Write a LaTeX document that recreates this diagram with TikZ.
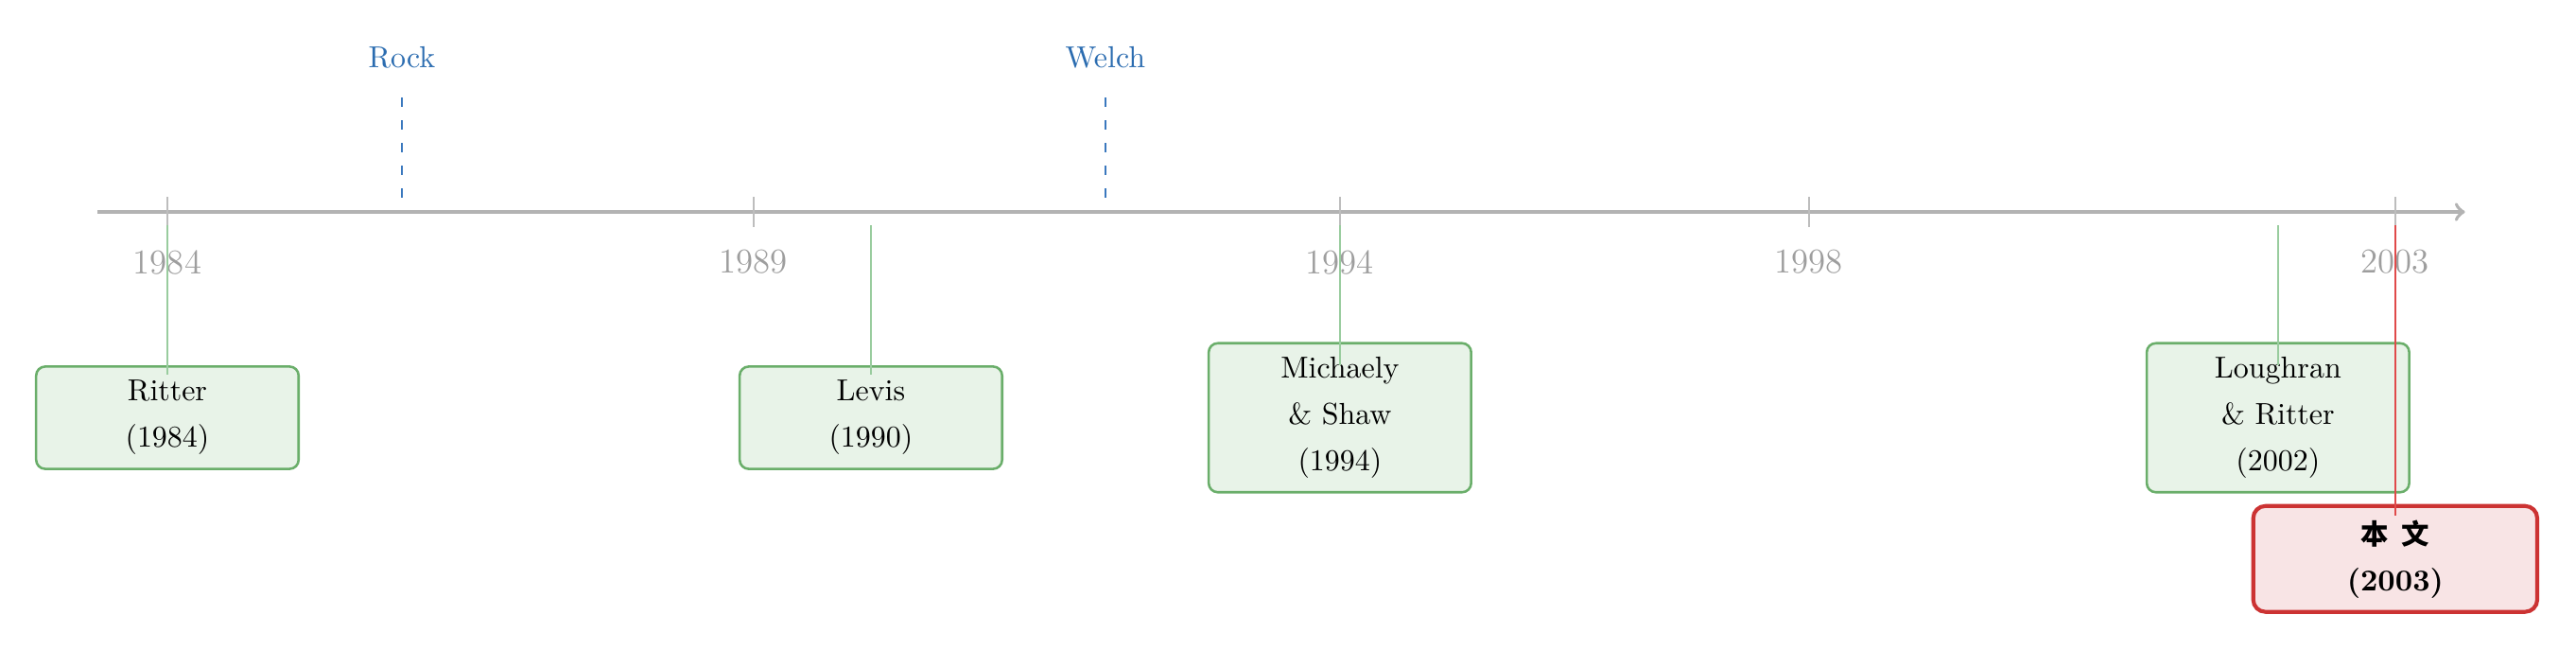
\documentclass[tikz,border=0pt]{standalone}
\usepackage{fontspec}
\newfontfamily\cjk{Noto Sans CJK SC}[Scale=0.92]
\usepackage{xcolor}
\definecolor{axisGray}{HTML}{B3B3B3}
\definecolor{tickGray}{HTML}{BDBDBD}
\definecolor{yearGray}{HTML}{9E9E9E}
\definecolor{inflBlue}{HTML}{2B6CB0}
\definecolor{inflDash}{HTML}{3A78BE}
\definecolor{paperEdge}{HTML}{6AAE6A}
\definecolor{paperFill}{HTML}{E8F3E8}
\definecolor{linkGreen}{HTML}{99CC9E}
\definecolor{oursEdge}{HTML}{CC3333}
\definecolor{oursFill}{HTML}{F8E4E5}
\definecolor{oursLine}{HTML}{E04A4A}
\usepackage{tikz}
\usetikzlibrary{calc}

\def\yrstep{1.3626}

\tikzset{
  timeaxis/.style={axisGray, line width=1.2pt},
  yeartick/.style={tickGray, line width=0.5pt},
  yearlabel/.style={text=yearGray, font=\fontsize{11.5}{14}\selectfont},
  influence/.style={text=inflBlue},
  inflline/.style={inflDash, line width=0.8pt, dash pattern=on 3.2pt off 4.3pt},
  paper/.style={draw=paperEdge, fill=paperFill, line width=0.8pt, rounded corners=3pt,
    align=center, minimum width=3.05cm, inner sep=4.6pt, font=\linespread{1.275}\selectfont},
  ours/.style={paper, draw=oursEdge, fill=oursFill, line width=1.3pt, rounded corners=4pt,
    minimum width=3.3cm, font=\bfseries\linespread{1.275}\selectfont},
  paperlink/.style={linkGreen, line width=0.5pt},
  ourslink/.style={oursLine, line width=0.6pt}
}

\begin{document}
\begin{tikzpicture}
  \useasboundingbox (-1.945,-5.077) rectangle (27.99,2.462);
  % the time axis
  \coordinate (axisStart) at (-0.813,0);
  \coordinate (axisEnd) at (26.70,0);
  \draw[timeaxis, ->] (axisStart) -- (axisEnd);
  \foreach \yy in {1984,1989,1994,1998,2003} {
    \coordinate (t\yy) at ({(\yy-1984)*\yrstep},0);
    \draw[yeartick] ($(t\yy)+(0,0.176)$) -- ($(t\yy)+(0,-0.176)$);
    \node[yearlabel] (y\yy) at ($(t\yy)+(0,-0.582)$) {\yy};
  }
  % influences above the axis
  \node[influence] (rock) at ({2*\yrstep},1.79) {Rock};
  \node[influence] (welch) at ({8*\yrstep},1.79) {Welch};
  \coordinate (rockFoot) at ({2*\yrstep},0.154);
  \coordinate (welchFoot) at ({8*\yrstep},0.154);
  \draw[inflline, shorten <=6pt] (rock.south) -- (rockFoot);
  \draw[inflline, shorten <=6pt] (welch.south) -- (welchFoot);
  % papers below the axis
  \node[paper] (ritter) at (0,-2.39) {Ritter\\(1984)};
  \node[paper] (levis) at ({6*\yrstep},-2.39) {Levis\\(1990)};
  \node[paper] (michaely) at ({10*\yrstep},-2.39) {Michaely\\\& Shaw\\(1994)};
  \node[paper] (loughran) at ({18*\yrstep},-2.39) {Loughran\\\& Ritter\\(2002)};
  \node[ours] (thiswork) at ({19*\yrstep},-4.03) {{\cjk 本\hspace{0.45em}文}\\(2003)};
  % connectors from the axis
  \foreach \who/\n in {ritter/0, levis/6, michaely/10, loughran/18, thiswork/19}
    \coordinate (foot-\who) at ({\n*\yrstep},-0.155);
  \draw[paperlink, shorten >=-3pt] (foot-ritter) -- (ritter.north);
  \draw[paperlink, shorten >=-3pt] (foot-levis) -- (levis.north);
  \draw[paperlink, shorten >=-7.7pt] (foot-michaely) -- (michaely.north);
  \draw[paperlink, shorten >=-7.7pt] (foot-loughran) -- (loughran.north);
  \draw[ourslink, shorten >=-3.8pt] (foot-thiswork) -- (thiswork.north);
\end{tikzpicture}
\end{document}
